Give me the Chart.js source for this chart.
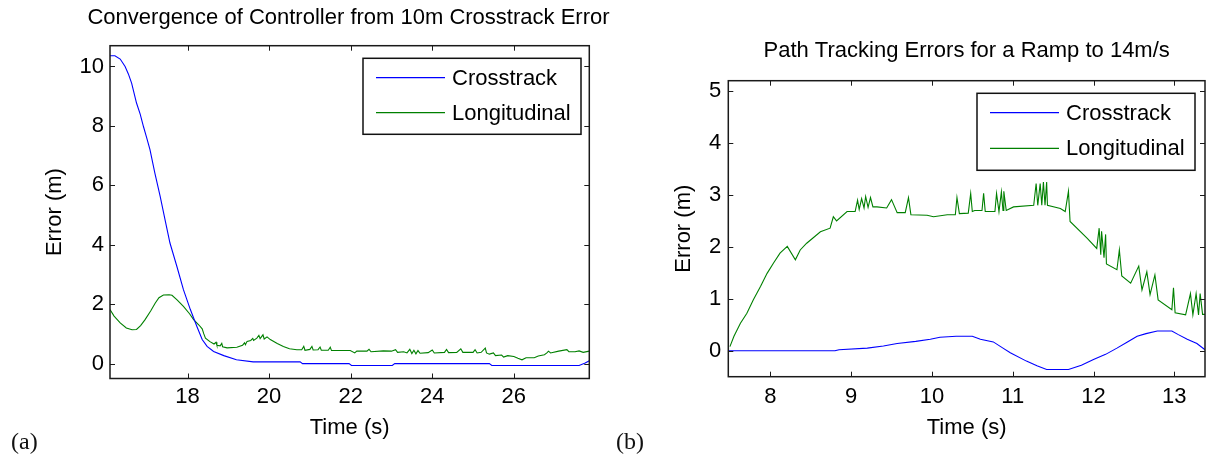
<!DOCTYPE html>
<html>
<head>
<meta charset="utf-8">
<script src="https://cdn.jsdelivr.net/npm/chart.js@4"></script>
<style>
  body { margin: 0; background: #fff; width: 1206px; height: 455px; position: relative; overflow: hidden; }
  canvas { position: absolute; top: 0; }
  #chartA { left: 0; }
  #chartB { left: 600px; }
  .tag { position: absolute; font-family: "Liberation Serif", "Times New Roman", serif; font-size: 24px; line-height: 24px; color: #111; }
</style>
</head>
<body>
<canvas id="chartA" width="697" height="455"></canvas>
<canvas id="chartB" width="606" height="455"></canvas>
<div class="tag" style="left:11px; top:429px;">(a)</div>
<div class="tag" style="left:616px; top:429px;">(b)</div>
<script>
// (a) convergence from 10m crosstrack error
const ticksXA = [18, 20, 22, 24, 26];
const ticksYA = [0, 2, 4, 6, 8, 10];
const timeCrossA = [16.10, 16.22, 16.35, 16.47, 16.55, 16.63, 16.75, 16.84, 16.92, 17.00, 17.08, 17.20, 17.33, 17.45, 17.57, 17.74, 17.90, 18.07, 18.23, 18.36, 18.48, 18.64, 18.89, 19.20, 19.61, 20.76, 20.82, 21.96, 22.02, 23.02, 23.08, 25.40, 25.46, 27.60, 27.75, 27.85];
const crossA = [10.36, 10.36, 10.25, 10.0, 9.75, 9.44, 8.77, 8.4, 7.98, 7.6, 7.2, 6.41, 5.63, 4.84, 4.06, 3.27, 2.49, 1.82, 1.25, 0.81, 0.58, 0.41, 0.27, 0.13, 0.06, 0.06, 0.0, 0.0, -0.06, -0.06, 0.0, 0.0, -0.06, -0.06, 0.02, 0.1];
const timeLongA = [16.10, 16.2, 16.35, 16.5, 16.64, 16.75, 16.85, 16.96, 17.1, 17.21, 17.3, 17.41, 17.55, 17.62, 17.75, 17.9, 18.05, 18.15, 18.28, 18.36, 18.4, 18.44, 18.55, 18.65, 18.7, 18.72, 18.8, 18.84, 18.86, 18.97, 19.21, 19.35, 19.4, 19.42, 19.46, 19.55, 19.6, 19.62, 19.7, 19.75, 19.78, 19.85, 19.88, 19.95, 20.03, 20.2, 20.35, 20.5, 20.68, 20.8, 20.85, 20.88, 21.0, 21.05, 21.08, 21.2, 21.25, 21.28, 21.45, 21.5, 21.53, 21.7, 21.99, 22.1, 22.15, 22.4, 22.45, 22.5, 22.8, 23.0, 23.1, 23.15, 23.3, 23.38, 23.45, 23.5, 23.55, 23.6, 23.65, 23.7, 23.9, 24.0, 24.05, 24.3, 24.35, 24.4, 24.6, 24.7, 24.75, 25.0, 25.05, 25.1, 25.2, 25.3, 25.33, 25.4, 25.5, 25.55, 25.7, 25.75, 25.85, 26.0, 26.1, 26.2, 26.3, 26.5, 26.6, 26.75, 26.81, 26.85, 26.9, 27.1, 27.3, 27.35, 27.5, 27.6, 27.7, 27.85];
const longA = [1.82, 1.6, 1.37, 1.2, 1.14, 1.15, 1.28, 1.48, 1.78, 2.04, 2.22, 2.31, 2.32, 2.3, 2.14, 1.93, 1.68, 1.48, 1.3, 1.17, 1.0, 0.86, 0.74, 0.66, 0.72, 0.62, 0.6, 0.68, 0.57, 0.53, 0.55, 0.62, 0.7, 0.64, 0.75, 0.78, 0.85, 0.78, 0.86, 0.95, 0.84, 0.97, 0.83, 0.9, 0.81, 0.68, 0.58, 0.5, 0.47, 0.47, 0.58, 0.45, 0.48, 0.58, 0.46, 0.47, 0.56, 0.45, 0.45, 0.55, 0.44, 0.44, 0.44, 0.36, 0.42, 0.42, 0.48, 0.4, 0.43, 0.42, 0.47, 0.38, 0.4, 0.36, 0.48, 0.34, 0.45, 0.33, 0.44, 0.35, 0.37, 0.46, 0.36, 0.38, 0.48, 0.37, 0.38, 0.5, 0.38, 0.38, 0.47, 0.36, 0.38, 0.52, 0.36, 0.32, 0.36, 0.27, 0.29, 0.22, 0.27, 0.24, 0.18, 0.13, 0.2, 0.2, 0.26, 0.3, 0.36, 0.42, 0.36, 0.42, 0.47, 0.4, 0.4, 0.43, 0.38, 0.42];

// (b) ramp to 14 m/s
const ticksXB = [8, 9, 10, 11, 12, 13];
const ticksYB = [0, 1, 2, 3, 4, 5];
const timeCrossB = [7.48, 8.8, 8.85, 9.2, 9.4, 9.57, 9.8, 9.98, 10.1, 10.3, 10.5, 10.6, 10.76, 10.87, 10.97, 11.17, 11.3, 11.42, 11.69, 11.85, 12.0, 12.15, 12.29, 12.42, 12.54, 12.65, 12.79, 12.97, 13.05, 13.16, 13.28, 13.38];
const crossB = [0, 0, 0.02, 0.05, 0.09, 0.14, 0.18, 0.22, 0.26, 0.28, 0.28, 0.22, 0.17, 0.06, -0.04, -0.2, -0.29, -0.36, -0.36, -0.28, -0.17, -0.07, 0.05, 0.17, 0.28, 0.33, 0.38, 0.38, 0.31, 0.22, 0.14, 0.02];
const timeLongB = [7.5, 7.55, 7.63, 7.71, 7.79, 7.88, 7.96, 8.04, 8.12, 8.21, 8.31, 8.37, 8.45, 8.62, 8.74, 8.78, 8.82, 8.95, 9.05, 9.08, 9.1, 9.13, 9.16, 9.18, 9.21, 9.24, 9.27, 9.32, 9.44, 9.5, 9.57, 9.67, 9.71, 9.74, 9.94, 10.02, 10.19, 10.29, 10.31, 10.34, 10.45, 10.48, 10.5, 10.53, 10.62, 10.64, 10.66, 10.78, 10.8, 10.83, 10.86, 10.88, 10.89, 10.92, 11.01, 11.26, 11.29, 11.31, 11.34, 11.36, 11.38, 11.4, 11.42, 11.43, 11.59, 11.65, 11.69, 11.71, 11.92, 12.04, 12.07, 12.09, 12.1, 12.13, 12.15, 12.16, 12.29, 12.32, 12.35, 12.46, 12.56, 12.6, 12.66, 12.7, 12.76, 12.8, 12.97, 12.99, 13.01, 13.14, 13.2, 13.23, 13.27, 13.3, 13.32, 13.35, 13.38];
const longB = [0.08, 0.28, 0.53, 0.72, 0.98, 1.24, 1.49, 1.69, 1.88, 2.01, 1.75, 1.94, 2.07, 2.29, 2.36, 2.58, 2.5, 2.68, 2.68, 2.9, 2.72, 2.93, 2.75, 2.97, 2.76, 2.95, 2.77, 2.77, 2.75, 2.91, 2.66, 2.66, 2.95, 2.62, 2.61, 2.58, 2.62, 2.62, 2.95, 2.64, 2.65, 3.03, 2.68, 2.7, 2.7, 3.03, 2.68, 2.68, 3.03, 2.68, 3.06, 2.7, 3.07, 2.7, 2.77, 2.8, 3.22, 2.8, 3.22, 2.8, 3.25, 2.8, 3.25, 2.8, 2.74, 2.68, 3.07, 2.49, 2.17, 1.97, 2.36, 1.85, 2.3, 1.79, 2.24, 1.67, 1.56, 1.94, 1.44, 1.3, 1.63, 1.17, 1.52, 1.08, 1.46, 0.98, 0.79, 1.21, 0.73, 0.69, 1.1, 0.69, 1.1, 0.69, 1.1, 0.7, 0.7];

const FONT = '"Liberation Sans", Arial, Helvetica, sans-serif';

function pairs(xs, ys) {
    return xs.map((x, i) => ({ x: x, y: ys[i] }));
}

// MATLAB-like box with inward ticks and a framed legend
const matlabBox = {
    id: 'matlabBox',
    afterDraw(chart, args, opts) {
        const { ctx, chartArea: a, scales: { x, y } } = chart;
        ctx.save();
        ctx.strokeStyle = '#1a1a1a';
        ctx.lineWidth = 1;
        ctx.beginPath();
        x.ticks.forEach(t => {
            const px = Math.round(x.getPixelForValue(t.value)) + 0.5;
            ctx.moveTo(px, a.bottom); ctx.lineTo(px, a.bottom - 5);
            ctx.moveTo(px, a.top); ctx.lineTo(px, a.top + 5);
        });
        y.ticks.forEach(t => {
            const py = Math.round(y.getPixelForValue(t.value)) + 0.5;
            ctx.moveTo(a.left, py); ctx.lineTo(a.left + 5, py);
            ctx.moveTo(a.right, py); ctx.lineTo(a.right - 5, py);
        });
        ctx.stroke();
        ctx.lineWidth = 1.5;
        ctx.strokeRect(a.left, a.top, a.right - a.left, a.bottom - a.top);

        // legend
        const bx = a.right - opts.right - opts.width;
        const by = a.top + opts.top;
        ctx.fillStyle = '#fff';
        ctx.fillRect(bx, by, opts.width, opts.height);
        ctx.strokeStyle = '#111';
        ctx.lineWidth = 1.5;
        ctx.strokeRect(bx, by, opts.width, opts.height);
        ctx.font = '22px ' + FONT;
        ctx.textBaseline = 'middle';
        ctx.textAlign = 'left';
        chart.data.datasets.forEach((ds, i) => {
            const ry = by + opts.rows[i];
            ctx.strokeStyle = ds.borderColor;
            ctx.lineWidth = 1.2;
            ctx.beginPath();
            ctx.moveTo(bx + 13, ry); ctx.lineTo(bx + 82, ry);
            ctx.stroke();
            ctx.fillStyle = '#000';
            ctx.fillText(ds.label, bx + 89, ry + 1);
        });
        ctx.restore();
    }
};

function makeChart(id, cfg) {
    const scales = {
        x: {
            type: 'linear',
            min: cfg.xMin,
            max: cfg.xMax,
            afterBuildTicks: s => { s.ticks = cfg.xTicks.map(v => ({ value: v })); },
            afterFit: s => { s.height = cfg.xAxisHeight; },
            grid: { display: false, drawTicks: false },
            border: { display: false },
            ticks: { color: '#000', padding: cfg.xTickPad, font: { size: 22, family: FONT } },
            title: {
                display: true, text: 'Time (s)', color: '#000',
                padding: { top: 0, bottom: 13.8 },
                font: { size: 22, family: FONT }
            }
        },
        y: {
            min: cfg.yMin,
            max: cfg.yMax,
            afterBuildTicks: s => { s.ticks = cfg.yTicks.map(v => ({ value: v })); },
            afterFit: s => { s.width = cfg.yAxisWidth; },
            grid: { display: false, drawTicks: false },
            border: { display: false },
            ticks: { color: '#000', padding: cfg.yTickPad, font: { size: 22, family: FONT } },
            title: {
                display: true, text: 'Error (m)', color: '#000',
                padding: { top: cfg.yTitlePad, bottom: 0 },
                font: { size: 22, family: FONT }
            }
        }
    };
    if (cfg.rightGap) {
        // empty right-hand box so the full-width title can overhang the plot
        scales.gap = {
            position: 'right',
            afterFit: s => { s.width = cfg.rightGap; },
            grid: { display: false, drawTicks: false },
            border: { display: false },
            ticks: { display: false }
        };
    }
    return new Chart(document.getElementById(id), {
        type: 'line',
        data: {
            datasets: [{
                label: 'Crosstrack',
                data: cfg.cross,
                borderColor: '#0000ff',
                borderWidth: 1.1,
                pointRadius: 0,
                tension: 0
            }, {
                label: 'Longitudinal',
                data: cfg.long,
                borderColor: '#008000',
                borderWidth: 1.1,
                pointRadius: 0,
                tension: 0
            }]
        },
        plugins: [matlabBox],
        options: {
            responsive: false,
            animation: false,
            layout: { padding: { left: 0, top: 0, right: cfg.padRight, bottom: 0 } },
            scales: scales,
            plugins: {
                legend: { display: false },
                tooltip: { enabled: false },
                title: {
                    display: true,
                    fullSize: cfg.titleFull,
                    text: cfg.title,
                    color: '#000',
                    font: { size: 22, family: FONT, weight: 'normal' },
                    padding: cfg.titlePad
                },
                matlabBox: cfg.legend
            }
        }
    });
}

makeChart('chartA', {
    title: 'Convergence of Controller from 10m Crosstrack Error',
    titleFull: true,
    cross: pairs(timeCrossA, crossA),
    long: pairs(timeLongA, longA),
    xMin: 16.1, xMax: 27.85, yMin: -0.5, yMax: 10.7,
    xTicks: ticksXA, yTicks: ticksYA,
    padRight: 0, rightGap: 107.7, yAxisWidth: 110, xAxisHeight: 76.5,
    titlePad: { top: 4.8, bottom: 14.5 },
    yTitlePad: 42.2, xTickPad: 5, yTickPad: 6,
    legend: { right: 8.3, top: 12.6, width: 218, height: 76, rows: [19.4, 54.4] }
});

makeChart('chartB', {
    title: 'Path Tracking Errors for a Ramp to 14m/s',
    titleFull: false,
    cross: pairs(timeCrossB, crossB),
    long: pairs(timeLongB, longB),
    xMin: 7.48, xMax: 13.38, yMin: -0.5, yMax: 5.2,
    xTicks: ticksXB, yTicks: ticksYB,
    padRight: 1, rightGap: 0, yAxisWidth: 128.3, xAxisHeight: 78.3,
    titlePad: { top: 38.1, bottom: 16.2 },
    yTitlePad: 70.8, xTickPad: 7, yTickPad: 7,
    legend: { right: 10, top: 12.6, width: 218, height: 77, rows: [19.4, 55] }
});
</script>
</body>
</html>
